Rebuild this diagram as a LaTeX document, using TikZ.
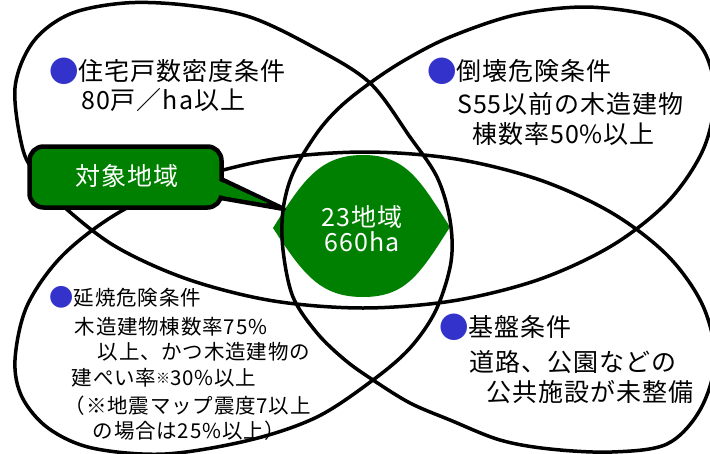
\documentclass[tikz,border=0pt]{standalone}
\usepackage{fontspec}
\setmainfont{Noto Sans CJK JP}[LetterSpace=4]
\definecolor{vgreen}{RGB}{0,128,0}
\definecolor{vblue}{RGB}{51,51,204}
\newcommand{\bul}{{\color{vblue}\raisebox{-1.6pt}{\scalebox{1.18}{●}}}}
\begin{document}
\begin{tikzpicture}[x=1pt,y=-1pt,
  petal/.style={line width=3.5pt, draw=black, line join=round},
  leaf/.style={fill=vgreen},
  callout/.style={fill=vgreen, draw=black, line width=4.5pt, line join=round},
  txt/.style={anchor=base west, inner sep=0pt, text=black},
  ctxt/.style={anchor=base, inner sep=0pt, text=white},
  big/.style={font=\fontsize{25}{30}\selectfont},
  small/.style={font=\fontsize{20.5}{24}\selectfont},
  mid/.style={font=\fontsize{25}{28}\selectfont}
]
\useasboundingbox (0,0) rectangle (710,453);
\begin{scope}
\clip (0,0) rectangle (710,453);
% central leaf
\fill[leaf] (273,228) .. controls (303,180) and (320,155) .. (363,155)
  .. controls (406,155) and (420,180) .. (450,227)
  .. controls (420,274) and (406,297) .. (363,297)
  .. controls (320,297) and (303,274) .. (273,228) -- cycle;
% the four-petal outline (one closed curve)
\draw[petal] plot[smooth cycle, tension=0.55] coordinates {
 (250,17) (185,5) (125,3) (70,14) (33,42) (15,88)
 (23,150) (39,178) (58,201.5) (114,245.6) (187,279) (272,300.7) (363,308)
 (454,300.7) (539,279.5) (612,245.6) (668,201.5) (703,150) (715,97)
 (706,55) (683,29) (645,14) (583,7) (515,15)
 (450,37) (405,60) (370,83) (340,107) (317,133) (293,173) (283,210)
 (283,250) (293,297) (317,333) (345,360) (373,380) (410,403) (450,420)
 (500,440) (550,449) (612,452) (667,444) (700,410)
 (715,360) (703,306) (668,256) (612,213) (540,180) (456,159) (365,152)
 (274,159) (190,180) (118,213) (62,256) (27,306) (15,360)
 (22,397) (48,428) (92,448) (165,454)
 (250,440) (317,417) (373,380) (410,348) (436,310) (451,262) (450,220)
 (437,177) (410,137) (370,83) (315,48)};
\end{scope}
% callout box
\coordinate (tip) at (284,209);
\filldraw[callout] (221,179) -- (tip) -- (221,198) -- cycle;
\node[callout, rounded corners=14pt, minimum width=192pt, minimum height=61pt,
  inner sep=0pt] (box) at (125.5,177) {};
\fill[vgreen] (212,177.7) -- (268.7,203.4) -- (212,194) -- cycle;
\node[ctxt, big] (boxt) at (127,185.9) {対象地域};
% centre text
\node[ctxt, mid] (c1) at (362,226.4) {23地域};
\node[ctxt, mid] (c2) at (362,251.9) {660ha};
% top left
\node[txt, big] (tl1) at (49,80.4) {\bul 住宅戸数密度条件};
\node[txt, big] (tl2) at (81,109.4) {80戸／ha以上};
% top right
\node[txt, big] (tr1) at (427,80.4) {\bul 倒壊危険条件};
\node[txt, big] (tr2) at (457,113.4) {S55以前の木造建物};
\node[txt, big] (tr3) at (472,143.4) {棟数率50\%以上};
% bottom right
\node[txt, big] (br1) at (439,336.9) {\bul 基盤条件};
\node[txt, big] (br2) at (469,371.4) {道路、公園などの};
\node[txt, big] (br3) at (486,401.4) {公共施設が未整備};
% bottom left
\node[txt, small] (bl1) at (49.5,305.2) {\bul 延焼危険条件};
\node[txt, small] (bl2) at (74.5,334.2) {木造建物棟数率75\%};
\node[txt, small] (bl3) at (97.5,359.2) {以上、かつ木造建物の};
\node[txt, small] (bl4) at (71.5,385.7) {建ぺい率\raisebox{2pt}{\fontsize{14}{14}\selectfont ※}30\%以上};
\node[txt, small] (bl5) at (64.7,413.7) {（※地震マップ震度7以上};
\node[txt, small] (bl6) at (92.5,438.7) {の場合は25\%以上）};
\end{tikzpicture}
\end{document}
